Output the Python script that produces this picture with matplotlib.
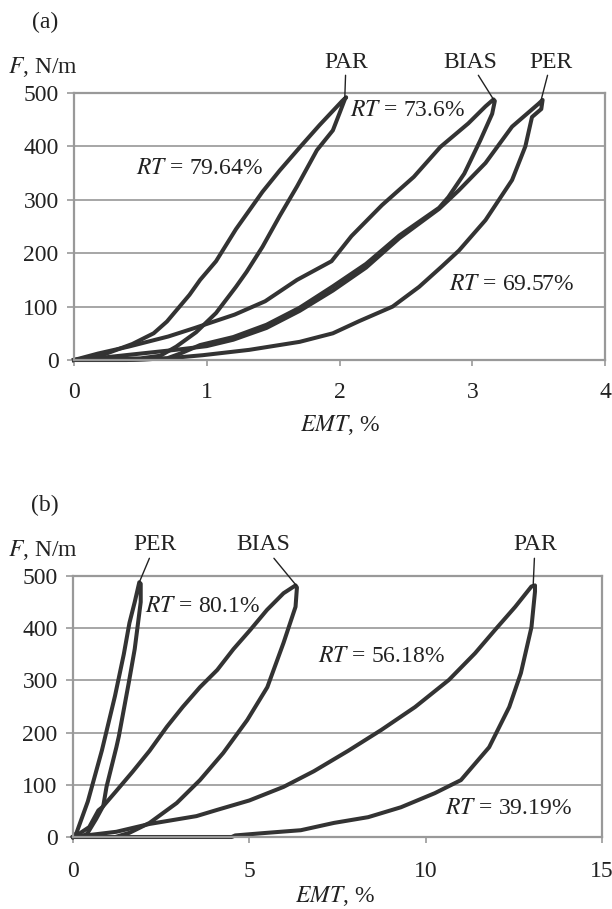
import matplotlib
matplotlib.use("Agg")
import matplotlib.pyplot as plt
import numpy as np

plt.rcParams['font.family'] = ['Liberation Serif', 'DejaVu Serif']
plt.rcParams['mathtext.fontset'] = 'stix'
plt.rcParams['font.size'] = 17

# ---------------- panel (a) data: loops go origin -> peak -> origin ----------------
a_par_x = [0, 0.2, 0.44, 0.6, 0.7, 0.87, 0.95, 1.07, 1.22, 1.42, 1.55, 1.70, 1.85, 2.02, 2.05,
           2.04, 2.0, 1.95, 1.83, 1.68, 1.55, 1.42, 1.3, 1.22, 1.07, 0.92, 0.77, 0.65, 0.5, 0.3, 0.0]
a_par_f = [0, 8, 30, 50, 72, 122, 150, 185, 245, 315, 355, 398, 440, 485, 492,
           488, 462, 430, 393, 325, 270, 212, 165, 137, 88, 52, 25, 8, 3, 2, 0]

a_bias_x = [0, 0.18, 0.41, 0.71, 0.91, 1.21, 1.44, 1.68, 1.94, 2.09, 2.32, 2.56, 2.76, 2.97, 3.1, 3.16,
            3.17, 3.15, 3.06, 2.94, 2.82, 2.75, 2.45, 2.2, 1.95, 1.7, 1.45, 1.2, 0.95, 0.8, 0.7, 0.4, 0]
a_bias_f = [0, 12, 25, 44, 60, 85, 110, 150, 185, 232, 290, 343, 399, 443, 475, 488,
            485, 461, 411, 349, 305, 285, 233, 180, 138, 98, 66, 43, 28, 12, 3, 0, 0]

a_per_x = [0, 0.2, 0.5, 0.8, 1.0, 1.2, 1.45, 1.7, 1.95, 2.2, 2.45, 2.75, 2.9, 3.1, 3.3, 3.5, 3.53,
           3.52, 3.45, 3.40, 3.30, 3.10, 2.9, 2.77, 2.6, 2.4, 2.15, 1.95, 1.70, 1.32, 0.97, 0.7, 0.4, 0]
a_per_f = [0, 4, 12, 20, 26, 38, 60, 92, 130, 173, 228, 283, 318, 369, 437, 480, 487,
           470, 455, 400, 337, 262, 205, 175, 137, 100, 73, 50, 34, 19, 9, 3, 0, 0]

# ---------------- panel (b) data ----------------
b_per_x = [0, 0.1, 0.42, 0.82, 1.19, 1.44, 1.6, 1.75, 1.88,
           1.92, 1.92, 1.75, 1.58, 1.3, 1.23, 0.95, 0.86, 0.66, 0.4, 0.2, 0]
b_per_f = [0, 8, 68, 166, 270, 350, 410, 450, 488,
           485, 450, 360, 295, 193, 172, 96, 60, 35, 6, 0, 0]

b_bias_x = [0, 0.17, 0.46, 0.72, 0.83, 1.2, 1.69, 2.17, 2.66, 3.11, 3.6, 4.09, 4.55, 5.03, 5.5, 5.97, 6.31,
            6.35, 6.31, 5.97, 5.51, 4.94, 4.26, 3.6, 2.94, 2.17, 1.6, 1.2, 0]
b_bias_f = [0, 6, 19, 51, 57, 86, 125, 165, 211, 249, 287, 320, 360, 397, 435, 467, 482,
            478, 441, 372, 287, 224, 161, 109, 65, 27, 8, 0, 0]

b_par_x = [0, 1.23, 2.17, 3.5, 4.09, 5.0, 5.97, 6.83, 7.8, 8.74, 9.7, 10.66, 11.4, 11.97, 12.54, 13.0,
           13.1, 13.1, 13.0, 12.7, 12.37, 11.8, 11.0, 10.26, 9.3, 8.37, 7.4, 6.46, 5.5, 4.6, 4.5, 0]
b_par_f = [0, 10, 25, 40, 52, 70, 96, 126, 165, 205, 249, 301, 352, 397, 441, 480,
           482, 470, 402, 314, 249, 172, 109, 84, 57, 38, 27, 13, 8, 3, 0, 0]

a_xticks = [0, 1, 2, 3, 4]
b_xticks = [0, 5, 10, 15]
yticks = [0, 100, 200, 300, 400, 500]

W, H = 612, 909
def fp(x, y):
    return (x / W, 1 - y / H)

line_c = '#333333'
grid_c = '#a6a6a6'

fig = plt.figure(figsize=(6.12, 9.09), dpi=100)
fig.patch.set_facecolor('white')

ax1 = fig.add_axes([74 / W, 1 - 360 / H, 531 / W, 267 / H])
ax2 = fig.add_axes([73 / W, 1 - 837 / H, 529 / W, 261 / H])

for ax, xt, xpad in ((ax1, a_xticks, 12), (ax2, b_xticks, 13.5)):
    ax.set_xlim(xt[0], xt[-1])
    ax.set_ylim(0, 500)
    ax.set_xticks(xt)
    ax.set_yticks(yticks)
    ax.yaxis.grid(True, color=grid_c, lw=1.4)
    ax.set_axisbelow(True)
    for s in ax.spines.values():
        s.set_color('#999999')
        s.set_linewidth(1.6)
    ax.tick_params(axis='x', direction='out', length=4, width=1.2, color='#999999', pad=xpad, labelcolor='#222222')
    ax.tick_params(axis='y', direction='out', length=5, width=1.2, color='#999999', pad=6, labelcolor='#222222')

lw = 2.9
ax1.plot(a_par_x, a_par_f, color=line_c, lw=lw, solid_joinstyle='round', clip_on=False)
ax1.plot(a_bias_x, a_bias_f, color=line_c, lw=lw, solid_joinstyle='round', clip_on=False)
ax1.plot(a_per_x, a_per_f, color=line_c, lw=lw, solid_joinstyle='round', clip_on=False)

ax2.plot(b_per_x, b_per_f, color=line_c, lw=lw, solid_joinstyle='round', clip_on=False)
ax2.plot(b_bias_x, b_bias_f, color=line_c, lw=lw, solid_joinstyle='round', clip_on=False)
ax2.plot(b_par_x, b_par_f, color=line_c, lw=lw, solid_joinstyle='round', clip_on=False)

txt_c = '#222222'
arr = dict(arrowstyle='-', color='#222222', lw=1.0, shrinkA=0, shrinkB=0)

# panel (a) labels
fig.text(*fp(45, 22), '(a)', ha='center', va='center', fontsize=17, color=txt_c)
fig.text(*fp(8, 67), '$F$, N/m', ha='left', va='center', fontsize=17, color=txt_c)
fig.text(*fp(340, 425), '$EMT$, %', ha='center', va='center', fontsize=17, color=txt_c)
ax1.annotate('PAR', xy=(2.04, 492), xytext=fp(346, 62), textcoords='figure fraction',
             ha='center', va='center', fontsize=17, color=txt_c, arrowprops=arr)
ax1.annotate('BIAS', xy=(3.16, 488), xytext=fp(470, 62), textcoords='figure fraction',
             ha='center', va='center', fontsize=17, color=txt_c, arrowprops=arr)
ax1.annotate('PER', xy=(3.52, 488), xytext=fp(551, 62), textcoords='figure fraction',
             ha='center', va='center', fontsize=17, color=txt_c, arrowprops=arr)
fig.text(*fp(350, 111), '$RT$ = 73.6%', ha='left', va='center', fontsize=17, color=txt_c)
fig.text(*fp(136, 169), '$RT$ = 79.64%', ha='left', va='center', fontsize=17, color=txt_c)
fig.text(*fp(449, 285), '$RT$ = 69.57%', ha='left', va='center', fontsize=17, color=txt_c)

# panel (b) labels
fig.text(*fp(45, 505), '(b)', ha='center', va='center', fontsize=17, color=txt_c)
fig.text(*fp(8, 550), '$F$, N/m', ha='left', va='center', fontsize=17, color=txt_c)
fig.text(*fp(335, 896), '$EMT$, %', ha='center', va='center', fontsize=17, color=txt_c)
ax2.annotate('PER', xy=(1.88, 488), xytext=fp(155, 545), textcoords='figure fraction',
             ha='center', va='center', fontsize=17, color=txt_c, arrowprops=arr)
ax2.annotate('BIAS', xy=(6.33, 482), xytext=fp(263, 545), textcoords='figure fraction',
             ha='center', va='center', fontsize=17, color=txt_c, arrowprops=arr)
ax2.annotate('PAR', xy=(13.05, 484), xytext=fp(535, 545), textcoords='figure fraction',
             ha='center', va='center', fontsize=17, color=txt_c, arrowprops=arr)
fig.text(*fp(145, 607), '$RT$ = 80.1%', ha='left', va='center', fontsize=17, color=txt_c)
fig.text(*fp(318, 657), '$RT$ = 56.18%', ha='left', va='center', fontsize=17, color=txt_c)
fig.text(*fp(445, 808), '$RT$ = 39.19%', ha='left', va='center', fontsize=17, color=txt_c)

fig.savefig('out.png', dpi=100, facecolor='white')
